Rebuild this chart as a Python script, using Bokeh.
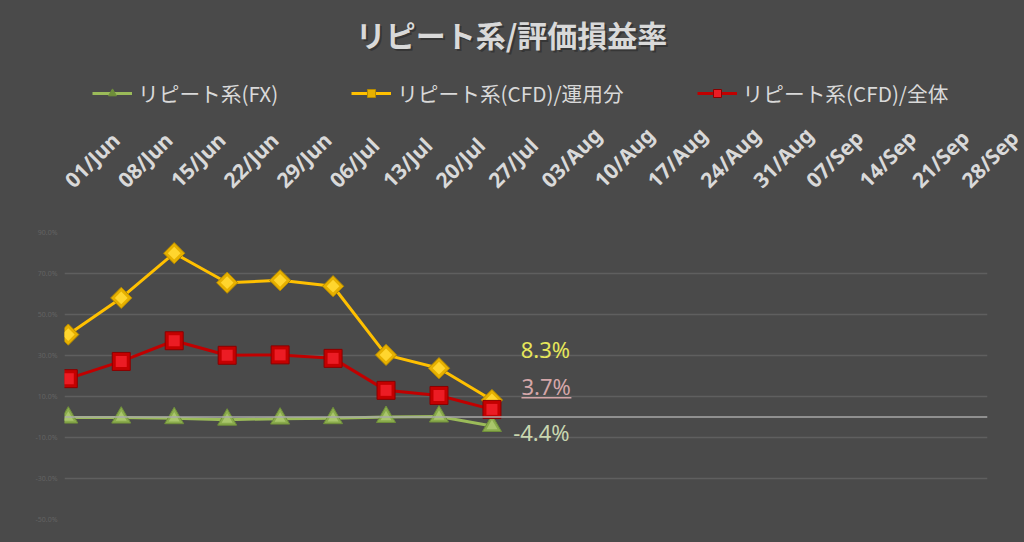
import math
import pandas as pd
from bokeh.plotting import figure
from bokeh.layouts import column
from bokeh.models import (Range1d, FixedTicker, PrintfTickFormatter, Span,
                          Legend, LegendItem, ColumnDataSource)
from bokeh.core.properties import value
from bokeh.embed import file_html
from bokeh.resources import INLINE

# ---------------- data ----------------
title_text = "リピート系/評価損益率"
axis_start = "2020-06-01"
axis_end = "2020-10-01"
tick_dates = ["2020-06-01", "2020-06-08", "2020-06-15", "2020-06-22", "2020-06-29",
              "2020-07-06", "2020-07-13", "2020-07-20", "2020-07-27",
              "2020-08-03", "2020-08-10", "2020-08-17", "2020-08-24", "2020-08-31",
              "2020-09-07", "2020-09-14", "2020-09-21", "2020-09-28"]
tick_labels = ["01/Jun", "08/Jun", "15/Jun", "22/Jun", "29/Jun",
               "06/Jul", "13/Jul", "20/Jul", "27/Jul",
               "03/Aug", "10/Aug", "17/Aug", "24/Aug", "31/Aug",
               "07/Sep", "14/Sep", "21/Sep", "28/Sep"]
point_dates = ["2020-06-01", "2020-06-08", "2020-06-15", "2020-06-22", "2020-06-29",
               "2020-07-06", "2020-07-13", "2020-07-20", "2020-07-27"]
series_names = ["リピート系(FX)", "リピート系(CFD)/運用分", "リピート系(CFD)/全体"]
fx = [-0.3, -0.3, -0.6, -1.3, -0.8, -0.6, 0.0, 0.2, -4.4]
cfd_unyo = [40.2, 58.1, 79.9, 65.5, 66.7, 63.8, 30.3, 23.8, 8.3]
cfd_all = [18.7, 27.1, 37.2, 30.1, 30.3, 28.6, 13.0, 10.5, 3.7]
y_ticks = [-50, -30, -10, 10, 30, 50, 70, 90]
y_min, y_max = -50, 90
end_label_text = ["8.3%", "3.7%", "-4.4%"]
end_label_day = [60.3, 60.4, 59.3]
end_label_y = [33.3, 15.0, -7.2]
end_label_color = ["#e6e65a", "#d4a6a8", "#c8d6b0"]

# ---------------- helpers ----------------
t0 = pd.Timestamp(axis_start)
def day(d):
    return (pd.Timestamp(d) - t0).days

span_days = day(axis_end)
tick_x = [day(d) + 0.5 for d in tick_dates]
px = [day(d) + 0.5 for d in point_dates]

BG = "#4a4a4a"
TXT = "#d9d9d9"
JP = "Noto Sans CJK JP"
W = 1024
HEAD_H = 108
MAIN_H = 434
F_LEFT, F_RIGHT = 64, 37

C_FX = dict(line="#9bbb59", outer="#8aab4c", edge="#6f8f3a", inner="#a9c66c")
C_UN = dict(line="#ffc000", outer="#e6b000", edge="#b58a00", inner="#ffd52e")
C_AL = dict(line="#c00000", outer="#c40000", edge="#8a0000", inner="#ec1c24")

css_bg = {"background-color": BG}

# ---------------- header: title + legend ----------------
head = figure(width=W, height=HEAD_H, output_backend="svg", toolbar_location=None,
              x_axis_type=None, y_axis_type=None,
              x_range=Range1d(F_LEFT, W - F_RIGHT), y_range=Range1d(HEAD_H, 0),
              min_border_left=F_LEFT, min_border_right=F_RIGHT,
              min_border_top=0, min_border_bottom=0, styles=css_bg)
head.background_fill_color = None
head.border_fill_color = None
head.outline_line_color = None
head.grid.visible = False

head.text(x=[513], y=[35], text=[title_text], text_color="#262626", text_alpha=0.55,
          text_align="center", text_baseline="middle", text_font=value(JP),
          text_font_style="bold", text_font_size="30px")
head.text(x=[511], y=[33], text=[title_text], text_color=TXT,
          text_align="center", text_baseline="middle", text_font=value(JP),
          text_font_style="bold", text_font_size="30px")

hidden = ColumnDataSource(dict(x=[-1000], y=[-1000]))
hl_fx = head.line("x", "y", source=hidden, line_color=C_FX["line"], line_width=3)
hm_fx = head.scatter("x", "y", source=hidden, marker="triangle", size=10,
                     fill_color=C_FX["edge"], line_color=C_FX["edge"])
hl_un = head.line("x", "y", source=hidden, line_color=C_UN["line"], line_width=3)
hm_un = head.scatter("x", "y", source=hidden, marker="square", angle=math.pi / 4, size=8,
                     fill_color=C_UN["outer"], line_color=C_UN["edge"])
hl_al = head.line("x", "y", source=hidden, line_color=C_AL["line"], line_width=3)
hm_al = head.scatter("x", "y", source=hidden, marker="square", size=10,
                     fill_color=C_AL["inner"], line_color=C_AL["edge"])

legend = Legend(items=[LegendItem(label=series_names[0], renderers=[hl_fx, hm_fx]),
                       LegendItem(label=series_names[1], renderers=[hl_un, hm_un]),
                       LegendItem(label=series_names[2], renderers=[hl_al, hm_al])],
                orientation="horizontal", location=(28, 0),
                glyph_width=40, glyph_height=20, label_height=20, label_standoff=6,
                spacing=73, padding=0, margin=0,
                border_line_color=None, background_fill_alpha=0,
                label_text_color=TXT, label_text_font=JP, label_text_font_size="20.7px")
head.add_layout(legend)

# ---------------- main chart ----------------
p = figure(width=W, height=MAIN_H, output_backend="svg", toolbar_location=None,
           title=None, x_axis_location="above",
           x_range=Range1d(0, span_days), y_range=Range1d(y_min, y_max),
           min_border_left=F_LEFT, min_border_right=F_RIGHT,
           min_border_top=122, min_border_bottom=23, styles=css_bg)
p.background_fill_color = None
p.border_fill_color = None
p.outline_line_color = None

xa = p.xaxis[0]
xa.ticker = FixedTicker(ticks=tick_x)
xa.major_label_overrides = {t: l for t, l in zip(tick_x, tick_labels)}
xa.major_label_orientation = math.pi / 4
xa.axis_line_color = None
xa.major_tick_line_color = None
xa.minor_tick_line_color = None
xa.major_tick_out = 0
xa.major_label_standoff = 49
xa.major_label_text_font = "Noto Sans"
xa.major_label_text_font_style = "bold"
xa.major_label_text_font_size = "21px"
xa.major_label_text_color = TXT

ya = p.yaxis[0]
ya.ticker = FixedTicker(ticks=y_ticks)
ya.formatter = PrintfTickFormatter(format="%.1f%%")
ya.axis_line_color = None
ya.major_tick_line_color = None
ya.minor_tick_line_color = None
ya.major_tick_out = 0
ya.major_label_standoff = 7
ya.major_label_text_font = "Noto Sans"
ya.major_label_text_font_size = "7px"
ya.major_label_text_color = "#636363"

p.xgrid.grid_line_color = None
p.ygrid.ticker = FixedTicker(ticks=y_ticks)
p.ygrid.grid_line_color = "#5f5f5f"
p.ygrid.grid_line_width = 1.5

p.add_layout(Span(location=0, dimension="width", line_color="#a8a8a8", line_width=1.6))

src = ColumnDataSource(dict(x=px, fx=fx, unyo=cfd_unyo, all=cfd_all))

p.line("x", "fx", source=src, line_color=C_FX["line"], line_width=3)
p.scatter("x", "fx", source=src, marker="triangle", size=19,
          fill_color=C_FX["outer"], line_color=C_FX["edge"], line_width=1)
p.scatter("x", "fx", source=src, marker="triangle", size=11,
          fill_color=C_FX["inner"], line_color=None)

p.line("x", "unyo", source=src, line_color=C_UN["line"], line_width=3)
p.scatter("x", "unyo", source=src, marker="square", angle=math.pi / 4, size=15,
          fill_color=C_UN["outer"], line_color=C_UN["edge"], line_width=1)
p.scatter("x", "unyo", source=src, marker="square", angle=math.pi / 4, size=9,
          fill_color=C_UN["inner"], line_color=None)

p.line("x", "all", source=src, line_color=C_AL["line"], line_width=3)
p.scatter("x", "all", source=src, marker="square", size=18,
          fill_color=C_AL["outer"], line_color=C_AL["edge"], line_width=1)
p.scatter("x", "all", source=src, marker="square", size=11,
          fill_color=C_AL["inner"], line_color=None)

lab_src = ColumnDataSource(dict(x=end_label_day, y=end_label_y, t=end_label_text, c=end_label_color))
p.text("x", "y", text="t", source=lab_src, text_color="c", text_align="left",
       text_baseline="middle", text_font=value("Noto Sans"), text_font_size="22px")
ul_src = ColumnDataSource(dict(x0=[end_label_day[1]], x1=[end_label_day[1] + 6.6],
                               y=[end_label_y[1] - 5.6]))
p.segment("x0", "y", "x1", "y", source=ul_src, line_color=end_label_color[1], line_width=1.5)

layout = column(head, p, spacing=0, styles=css_bg)
open("out.html", "w").write(file_html(layout, INLINE))
